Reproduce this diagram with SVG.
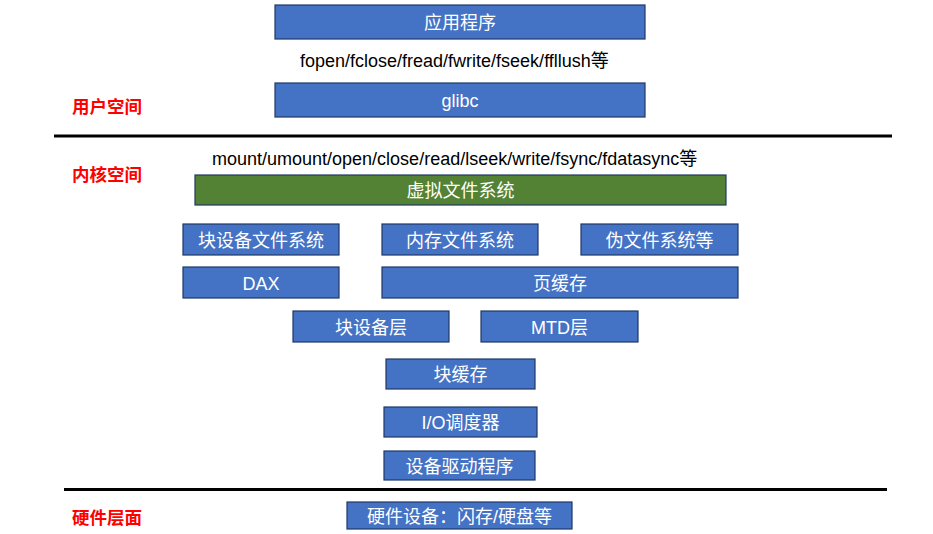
<svg xmlns="http://www.w3.org/2000/svg" width="933" height="534" viewBox="0 0 933 534">
<style>
text{font-family:"Liberation Sans","Noto Sans CJK SC",sans-serif;}
.b{fill:#4472C4;stroke:#1F3864;stroke-width:1.2;}
.g{fill:#548235;stroke:#1F3864;stroke-width:1.2;}
.t{fill:#FFFFFF;font-size:18px;text-anchor:middle;}
.k{fill:#000000;font-size:18px;}
.r{fill:#FF0000;font-size:17.5px;font-weight:bold;}
.sep{stroke:#000000;stroke-width:3;}
</style>
<rect width="933" height="534" fill="#FFFFFF"/>
<g id="separators">
<line class="sep" x1="54" y1="136" x2="892" y2="136"/>
<line class="sep" x1="64" y1="489.5" x2="887" y2="489.5"/>
</g>
<g id="labels">
<text class="r" x="72" y="113">用户空间</text>
<text class="r" x="72" y="181">内核空间</text>
<text class="r" x="72" y="524">硬件层面</text>
<text class="k" x="300" y="67">fopen/fclose/fread/fwrite/fseek/ffllush等</text>
<text class="k" x="212" y="165">mount/umount/open/close/read/lseek/write/fsync/fdatasync等</text>
</g>
<g id="app"><rect class="b" x="275" y="5" width="370" height="34"/><text class="t" x="460" y="29">应用程序</text></g>
<g id="glibc"><rect class="b" x="275" y="83" width="370" height="34"/><text class="t" x="460" y="107">glibc</text></g>
<g id="vfs"><rect class="g" x="195" y="175" width="531" height="30"/><text class="t" x="460.5" y="197">虚拟文件系统</text></g>
<g id="blockfs"><rect class="b" x="183" y="224" width="156" height="31"/><text class="t" x="261" y="247">块设备文件系统</text></g>
<g id="memfs"><rect class="b" x="382" y="224" width="156" height="31"/><text class="t" x="460" y="247">内存文件系统</text></g>
<g id="pseudofs"><rect class="b" x="581" y="224" width="157" height="31"/><text class="t" x="659.5" y="247">伪文件系统等</text></g>
<g id="dax"><rect class="b" x="183" y="267" width="156" height="31"/><text class="t" x="261" y="290">DAX</text></g>
<g id="pagecache"><rect class="b" x="382" y="267" width="356" height="31"/><text class="t" x="560" y="290">页缓存</text></g>
<g id="blocklayer"><rect class="b" x="293" y="311" width="156" height="31"/><text class="t" x="371" y="334">块设备层</text></g>
<g id="mtd"><rect class="b" x="481" y="311" width="157" height="31"/><text class="t" x="559.5" y="334">MTD层</text></g>
<g id="blockcache"><rect class="b" x="386" y="359" width="149" height="30"/><text class="t" x="460.5" y="381">块缓存</text></g>
<g id="iosched"><rect class="b" x="384" y="407" width="153" height="30"/><text class="t" x="460.5" y="429">I/O调度器</text></g>
<g id="driver"><rect class="b" x="384" y="451" width="151" height="29"/><text class="t" x="459.5" y="472.5">设备驱动程序</text></g>
<g id="hardware"><rect class="b" x="347" y="502" width="225" height="27"/><text class="t" x="459.5" y="522.5">硬件设备：闪存/硬盘等</text></g>
<g id="connectors"></g>
</svg>
